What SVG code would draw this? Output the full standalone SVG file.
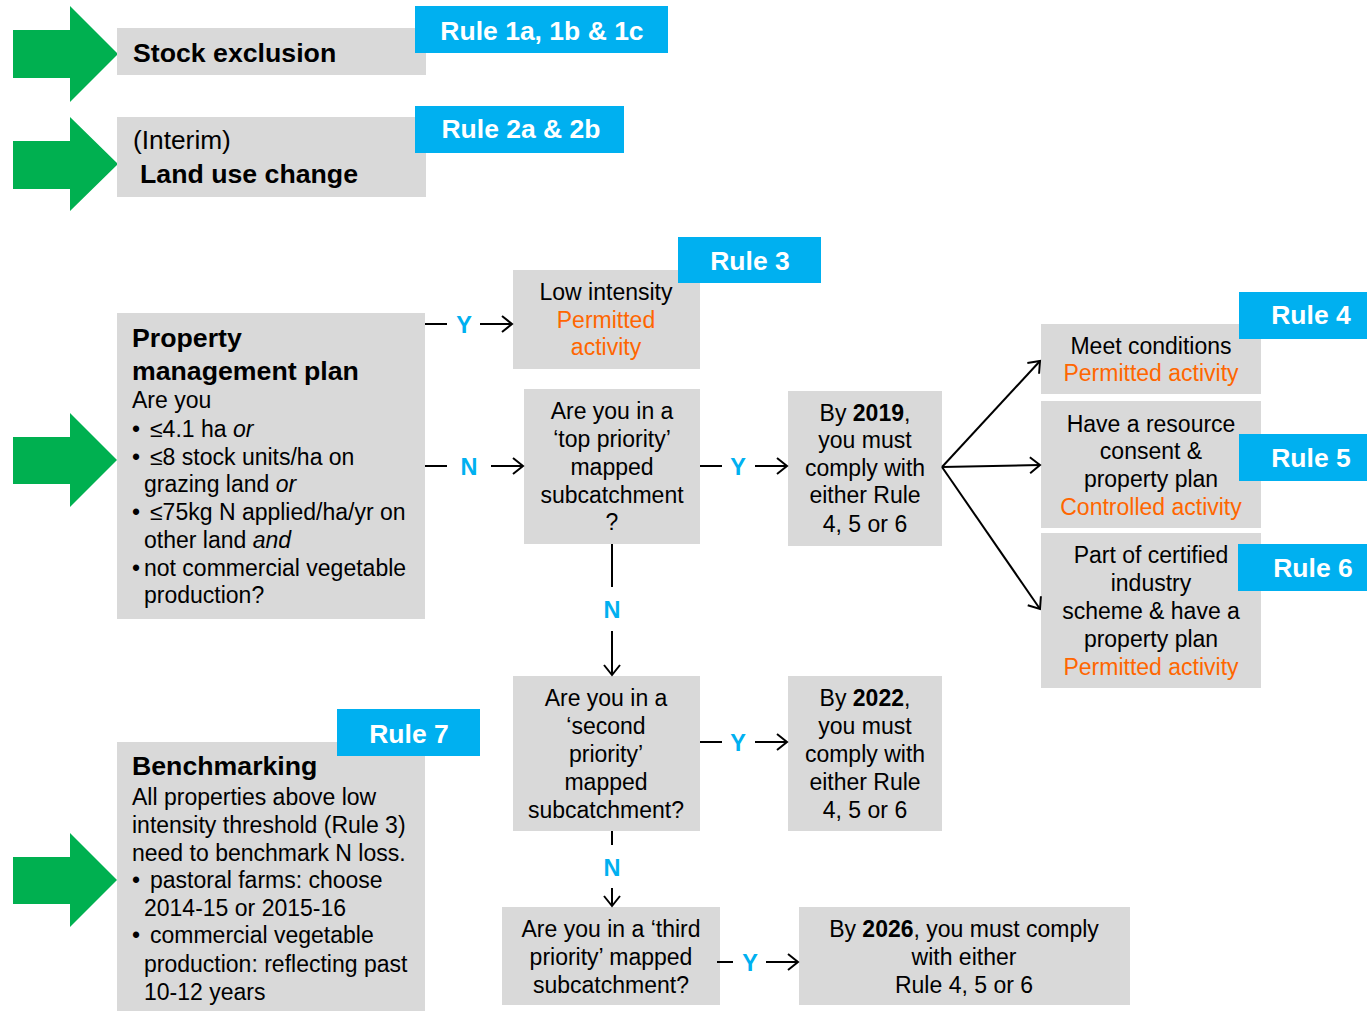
<svg xmlns="http://www.w3.org/2000/svg" width="1367" height="1011" viewBox="0 0 1367 1011">
<defs>
<style>
.box{fill:#D9D9D9}
.rule{fill:#00B0F0}
.green{fill:#00B050}
text{font-family:"Liberation Sans",Arial,sans-serif;fill:#000}
.t{font-size:23px}
.c{text-anchor:middle}
.title{font-size:26.7px;font-weight:bold}
.big{font-size:26.3px}
.rt{font-size:26.5px;font-weight:bold;fill:#fff;text-anchor:middle}
.o{fill:#FF6600}
.b{font-weight:bold}
.i{font-style:italic}
.yn{font-size:23.5px;font-weight:bold;fill:#00B0F0;text-anchor:middle}
.ln{stroke:#000;stroke-width:2;fill:none}
</style>
<marker id="ah" markerUnits="userSpaceOnUse" markerWidth="14" markerHeight="20" viewBox="0 0 14 20" refX="11" refY="9" orient="auto">
<path d="M1,1 L11,9 L1,17" fill="none" stroke="#000" stroke-width="2"/>
</marker>
</defs>
<rect width="1367" height="1011" fill="#fff"/>

<g id="green-arrows">
<polygon class="green" points="13,30 70,30 70,6 118,54 70,102 70,78 13,78"/>
<polygon class="green" points="13,141 70,141 70,117 118,164 70,211 70,189 13,189"/>
<polygon class="green" points="13,437 70,437 70,413 117,460 70,507 70,484 13,484"/>
<polygon class="green" points="13,857 70,857 70,833 117,880 70,927 70,904 13,904"/>
</g>

<g id="stock-exclusion">
<rect class="box" x="117" y="28" width="309" height="47"/>
<text class="title" x="133" y="62">Stock exclusion</text>
</g>
<g id="rule-1">
<rect class="rule" x="415" y="6" width="253" height="47"/>
<text class="rt" x="542" y="40">Rule 1a, 1b &amp; 1c</text>
</g>

<g id="land-use-change">
<rect class="box" x="117" y="117" width="309" height="80"/>
<text class="big" x="133" y="149">(Interim)</text>
<text class="title" x="140" y="183">Land use change</text>
</g>
<g id="rule-2">
<rect class="rule" x="415" y="106" width="209" height="47"/>
<text class="rt" x="521" y="138">Rule 2a &amp; 2b</text>
</g>

<g id="property-plan">
<rect class="box" x="117" y="313" width="308" height="306"/>
<text class="title" x="132" y="347">Property</text>
<text class="title" x="132" y="380">management plan</text>
<text class="t" x="132" y="408">Are you</text>
<text class="t" x="132" y="437">•<tspan x="150">≤4.1 ha </tspan><tspan class="i">or</tspan></text>
<text class="t" x="132" y="465">•<tspan x="150">≤8 stock units/ha on</tspan></text>
<text class="t" x="144" y="492">grazing land <tspan class="i">or</tspan></text>
<text class="t" x="132" y="520">•<tspan x="150">≤75kg N applied/ha/yr on</tspan></text>
<text class="t" x="144" y="548">other land <tspan class="i">and</tspan></text>
<text class="t" x="132" y="576">•<tspan x="144">not commercial vegetable</tspan></text>
<text class="t" x="144" y="603">production?</text>
</g>

<g id="low-intensity">
<rect class="box" x="513" y="270" width="187" height="99"/>
<text class="t c" x="606" y="300">Low intensity</text>
<text class="t c o" x="606" y="328">Permitted</text>
<text class="t c o" x="606" y="355">activity</text>
</g>
<g id="rule-3">
<rect class="rule" x="678" y="237" width="143" height="46"/>
<text class="rt" x="750" y="270">Rule 3</text>
</g>

<g id="top-priority">
<rect class="box" x="524" y="389" width="176" height="155"/>
<text class="t c" x="612" y="419">Are you in a</text>
<text class="t c" x="612" y="447">‘top priority’</text>
<text class="t c" x="612" y="475">mapped</text>
<text class="t c" x="612" y="503">subcatchment</text>
<text class="t c" x="612" y="530">?</text>
</g>

<g id="by-2019">
<rect class="box" x="788" y="391" width="154" height="155"/>
<text class="t c" x="865" y="421">By <tspan class="b">2019</tspan>,</text>
<text class="t c" x="865" y="448">you must</text>
<text class="t c" x="865" y="476">comply with</text>
<text class="t c" x="865" y="503">either Rule</text>
<text class="t c" x="865" y="532">4, 5 or 6</text>
</g>

<g id="meet-conditions">
<rect class="box" x="1041" y="324" width="220" height="70"/>
<text class="t c" x="1151" y="354">Meet conditions</text>
<text class="t c o" x="1151" y="381">Permitted activity</text>
</g>
<g id="rule-4">
<rect class="rule" x="1239" y="292" width="128" height="47"/>
<text class="rt" x="1311" y="324">Rule 4</text>
</g>

<g id="resource-consent">
<rect class="box" x="1041" y="401" width="220" height="127"/>
<text class="t c" x="1151" y="432">Have a resource</text>
<text class="t c" x="1151" y="459">consent &amp;</text>
<text class="t c" x="1151" y="487">property plan</text>
<text class="t c o" x="1151" y="515">Controlled activity</text>
</g>
<g id="rule-5">
<rect class="rule" x="1239" y="434" width="128" height="47"/>
<text class="rt" x="1311" y="467">Rule 5</text>
</g>

<g id="certified-scheme">
<rect class="box" x="1041" y="533" width="220" height="155"/>
<text class="t c" x="1151" y="563">Part of certified</text>
<text class="t c" x="1151" y="591">industry</text>
<text class="t c" x="1151" y="619">scheme &amp; have a</text>
<text class="t c" x="1151" y="647">property plan</text>
<text class="t c o" x="1151" y="675">Permitted activity</text>
</g>
<g id="rule-6">
<rect class="rule" x="1238" y="544" width="129" height="47"/>
<text class="rt" x="1313" y="577">Rule 6</text>
</g>

<g id="second-priority">
<rect class="box" x="513" y="676" width="187" height="155"/>
<text class="t c" x="606" y="706">Are you in a</text>
<text class="t c" x="606" y="734">‘second</text>
<text class="t c" x="606" y="762">priority’</text>
<text class="t c" x="606" y="790">mapped</text>
<text class="t c" x="606" y="818">subcatchment?</text>
</g>

<g id="by-2022">
<rect class="box" x="788" y="676" width="154" height="155"/>
<text class="t c" x="865" y="706">By <tspan class="b">2022</tspan>,</text>
<text class="t c" x="865" y="734">you must</text>
<text class="t c" x="865" y="762">comply with</text>
<text class="t c" x="865" y="790">either Rule</text>
<text class="t c" x="865" y="818">4, 5 or 6</text>
</g>

<g id="third-priority">
<rect class="box" x="502" y="907" width="218" height="98"/>
<text class="t c" x="611" y="937">Are you in a ‘third</text>
<text class="t c" x="611" y="965">priority’ mapped</text>
<text class="t c" x="611" y="993">subcatchment?</text>
</g>

<g id="by-2026">
<rect class="box" x="799" y="907" width="331" height="98"/>
<text class="t c" x="964" y="937">By <tspan class="b">2026</tspan>, you must comply</text>
<text class="t c" x="964" y="965">with either</text>
<text class="t c" x="964" y="993">Rule 4, 5 or 6</text>
</g>

<g id="benchmarking">
<rect class="box" x="117" y="742" width="308" height="269"/>
<text class="title" x="132" y="775">Benchmarking</text>
<text class="t" x="132" y="805">All properties above low</text>
<text class="t" x="132" y="833">intensity threshold (Rule 3)</text>
<text class="t" x="132" y="861">need to benchmark N loss.</text>
<text class="t" x="132" y="888">•<tspan x="150">pastoral farms: choose</tspan></text>
<text class="t" x="144" y="916">2014-15 or 2015-16</text>
<text class="t" x="132" y="943">•<tspan x="150">commercial vegetable</tspan></text>
<text class="t" x="144" y="972">production: reflecting past</text>
<text class="t" x="144" y="1000">10-12 years</text>
</g>
<g id="rule-7">
<rect class="rule" x="337" y="709" width="143" height="47"/>
<text class="rt" x="409" y="743">Rule 7</text>
</g>

<g id="connectors">
<line class="ln" x1="425" y1="324" x2="447" y2="324"/>
<text class="yn" x="464" y="333">Y</text>
<line class="ln" x1="480" y1="324" x2="512" y2="324" marker-end="url(#ah)"/>

<line class="ln" x1="425" y1="466" x2="447" y2="466"/>
<text class="yn" x="469" y="475">N</text>
<line class="ln" x1="491" y1="466" x2="523" y2="466" marker-end="url(#ah)"/>

<line class="ln" x1="700" y1="466" x2="722" y2="466"/>
<text class="yn" x="738" y="475">Y</text>
<line class="ln" x1="755" y1="466" x2="787" y2="466" marker-end="url(#ah)"/>

<line class="ln" x1="942" y1="467" x2="1040" y2="361" marker-end="url(#ah)"/>
<line class="ln" x1="942" y1="467" x2="1040" y2="465" marker-end="url(#ah)"/>
<line class="ln" x1="942" y1="467" x2="1040" y2="609" marker-end="url(#ah)"/>

<line class="ln" x1="612" y1="544" x2="612" y2="587"/>
<text class="yn" x="612" y="618">N</text>
<line class="ln" x1="612" y1="631" x2="612" y2="675" marker-end="url(#ah)"/>

<line class="ln" x1="700" y1="742" x2="722" y2="742"/>
<text class="yn" x="738" y="751">Y</text>
<line class="ln" x1="755" y1="742" x2="787" y2="742" marker-end="url(#ah)"/>

<line class="ln" x1="612" y1="831" x2="612" y2="845"/>
<text class="yn" x="612" y="876">N</text>
<line class="ln" x1="612" y1="888" x2="612" y2="906" marker-end="url(#ah)"/>

<line class="ln" x1="717" y1="962" x2="733" y2="962"/>
<text class="yn" x="750" y="971">Y</text>
<line class="ln" x1="766" y1="962" x2="798" y2="962" marker-end="url(#ah)"/>
</g>
</svg>
